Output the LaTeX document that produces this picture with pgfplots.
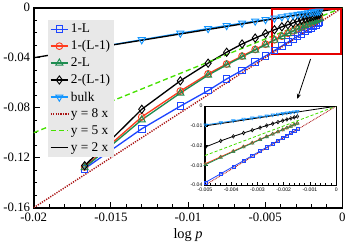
\documentclass[border=0pt]{standalone}
\usepackage{fontspec}
\setmainfont{Liberation Serif}
\newfontfamily\insetfont{Liberation Sans}
\usepackage{pgfplots}
\usepackage{pgfplotstable}
\pgfplotsset{compat=1.18}
\usetikzlibrary{arrows.meta}

\definecolor{cA}{RGB}{30,70,255}
\definecolor{cB}{RGB}{255,60,30}
\definecolor{cC}{RGB}{30,140,80}
\definecolor{cE}{RGB}{20,150,255}
\definecolor{cR}{RGB}{170,20,20}
\definecolor{cG}{RGB}{70,225,0}

\pgfplotstableread{
x        LA       LB       LC       LD       bulk
-0.0167  -0.1288  -0.1274  -0.1280  -0.1264  -0.0334
-0.0130  -0.09685 -0.08736 -0.0897  -0.08125 -0.02561
-0.0105  -0.07875 -0.06668 -0.06825 -0.05849 -0.02037
-0.0087  -0.06629 -0.05290 -0.05394 -0.04437 -0.01670
-0.0075  -0.0570  -0.0450  -0.04575 -0.03563 -0.01425
-0.0065  -0.05005 -0.03868 -0.03933 -0.02899 -0.01235
-0.00565 -0.04339 -0.03334 -0.0339  -0.02430 -0.01074
-0.00498 -0.03860 -0.02913 -0.02963 -0.02067 -0.00946
-0.00440 -0.03423 -0.02561 -0.02596 -0.0176  -0.00836
-0.00392 -0.03058 -0.02274 -0.02305 -0.01529 -0.00737
-0.00353 -0.02760 -0.02044 -0.02069 -0.01359 -0.00660
-0.00320 -0.02506 -0.01850 -0.01872 -0.01216 -0.00595
-0.00290 -0.02274 -0.01676 -0.01697 -0.01088 -0.00537
-0.00265 -0.02080 -0.01532 -0.01550 -0.00981 -0.00488
-0.00242 -0.01902 -0.01401 -0.01416 -0.00886 -0.00443
-0.00222 -0.01747 -0.01288 -0.01301 -0.00806 -0.00404
-0.00204 -0.01605 -0.01185 -0.01197 -0.00734 -0.00369
-0.00188 -0.01481 -0.01094 -0.01105 -0.00673 -0.00338
-0.00173 -0.01363 -0.01009 -0.01019 -0.00616 -0.00311
-0.00160 -0.01261 -0.00934 -0.00944 -0.00566 -0.00286
-0.00148 -0.01166 -0.00864 -0.00873 -0.00521 -0.00263
}\data

\begin{document}
\begin{tikzpicture}
\begin{axis}[name=main,
  scale only axis, width=301pt, height=195pt,
  xmin=-0.02, xmax=0, ymin=-0.16, ymax=0,
  xtick={-0.02,-0.015,-0.01,-0.005,0},
  ytick={-0.16,-0.12,-0.08,-0.04,0},
  minor x tick num=4, minor y tick num=3,
  tick align=inside, xtick pos=left, ytick pos=left,
  major tick length=6pt, minor tick length=3.5pt,
  every tick/.style={black, line width=1pt},
  axis line style={line width=1.6pt},
  scaled ticks=false,
  /pgf/number format/fixed, /pgf/number format/precision=3,
  /pgf/number format/assume math mode=true,
  tick label style={font=\fontsize{12.5}{14}\selectfont},
  xticklabel style={yshift=-2pt},
  xlabel={log \textit{p}},
  xlabel style={font=\fontsize{14}{16}\selectfont, yshift=1pt},
  legend cell align=left,
  legend style={at={(0.045,0.94)}, anchor=north west, draw=none,
    fill=black!9, font=\fontsize{13}{15}\selectfont, inner sep=2pt,
    row sep=2.2pt},
]
\addplot[cA, line width=1.3pt, mark=square, mark size=3.2pt, mark options={solid, fill=white, line width=0.9pt}] table[x=x,y=LA]{\data};
\addplot[cB, line width=1.3pt, mark=o, mark size=3.3pt, mark options={solid, fill=white, line width=0.9pt}] table[x=x,y=LB]{\data};
\addplot[cC, line width=1.3pt, mark=triangle, mark size=4pt, mark options={solid, fill=white, line width=0.9pt}] table[x=x,y=LC]{\data};
\addplot[black, line width=1.3pt, mark=diamond, mark size=4pt, mark options={solid, fill=white, line width=0.9pt}] table[x=x,y=LD]{\data};
\addplot[cE, line width=1.3pt, mark=triangle, mark size=4pt, mark options={solid, fill=white, line width=0.9pt, rotate=180}] table[x=x,y=bulk]{\data};
\addplot[cR, line width=1.4pt, dash pattern=on 1.2pt off 1.2pt] coordinates {(-0.02,-0.16) (0,0)};
\addplot[cG, line width=1.3pt, dash pattern=on 5pt off 3pt] coordinates {(-0.02,-0.1) (0,0)};
\addplot[black, line width=1.3pt] coordinates {(-0.02,-0.04) (0,0)};
\legend{1-L,1-(L-1),2-L,2-(L-1),bulk,y = 8 x,y = 5 x,y = 2 x}
\draw[red!90!black, line width=1.6pt] (axis cs:-0.00454,-0.0008) rectangle (axis cs:-0.00008,-0.0372);
\draw[-{Stealth[length=5pt,width=4pt]}, line width=0.8pt] (axis cs:-0.00206,-0.041) -- (axis cs:-0.00292,-0.073);
\end{axis}
\begin{axis}[at={(main.south west)}, anchor=south west, xshift=167pt, yshift=22pt,
  scale only axis, width=128pt, height=77pt,
  xmin=-0.005, xmax=0, ymin=-0.04, ymax=0,
  xtick={-0.005,-0.004,-0.003,-0.002,-0.001,0},
  ytick={-0.04,-0.03,-0.02,-0.01,0},
  minor x tick num=4,
  tick align=inside, xtick pos=left, ytick pos=left,
  major tick length=3pt, minor tick length=1.8pt,
  every tick/.style={black, line width=0.6pt},
  axis line style={line width=1.1pt},
  axis background/.style={fill=white},
  scaled ticks=false,
  /pgf/number format/fixed, /pgf/number format/precision=3,
  /pgf/number format/assume math mode=true,
  tick label style={font=\insetfont\fontsize{5}{6}\selectfont},
  xticklabel style={yshift=1pt}, yticklabel style={xshift=1pt},
]
\addplot[cA, line width=0.8pt, mark=square, mark size=1.5pt, mark options={solid, fill=white, line width=0.5pt}] table[x=x,y=LA]{\data};
\addplot[cB, line width=0.8pt, mark=o, mark size=1.5pt, mark options={solid, fill=white, line width=0.5pt}] table[x=x,y=LB]{\data};
\addplot[cC, line width=0.8pt, mark=triangle, mark size=1.9pt, mark options={solid, fill=white, line width=0.5pt}] table[x=x,y=LC]{\data};
\addplot[black, line width=0.8pt, mark=diamond, mark size=1.8pt, mark options={solid, fill=white, line width=0.5pt}] table[x=x,y=LD]{\data};
\addplot[cE, line width=0.8pt, mark=triangle, mark size=1.9pt, mark options={solid, fill=white, line width=0.5pt, rotate=180}] table[x=x,y=bulk]{\data};
\addplot[cR, line width=0.8pt, dash pattern=on 0.8pt off 0.8pt] coordinates {(-0.005,-0.04) (0,0)};
\addplot[cG, line width=0.8pt, dash pattern=on 3pt off 2pt] coordinates {(-0.005,-0.025) (0,0)};
\addplot[black, line width=0.8pt] coordinates {(-0.005,-0.01) (0,0)};
\end{axis}
\end{tikzpicture}
\end{document}
